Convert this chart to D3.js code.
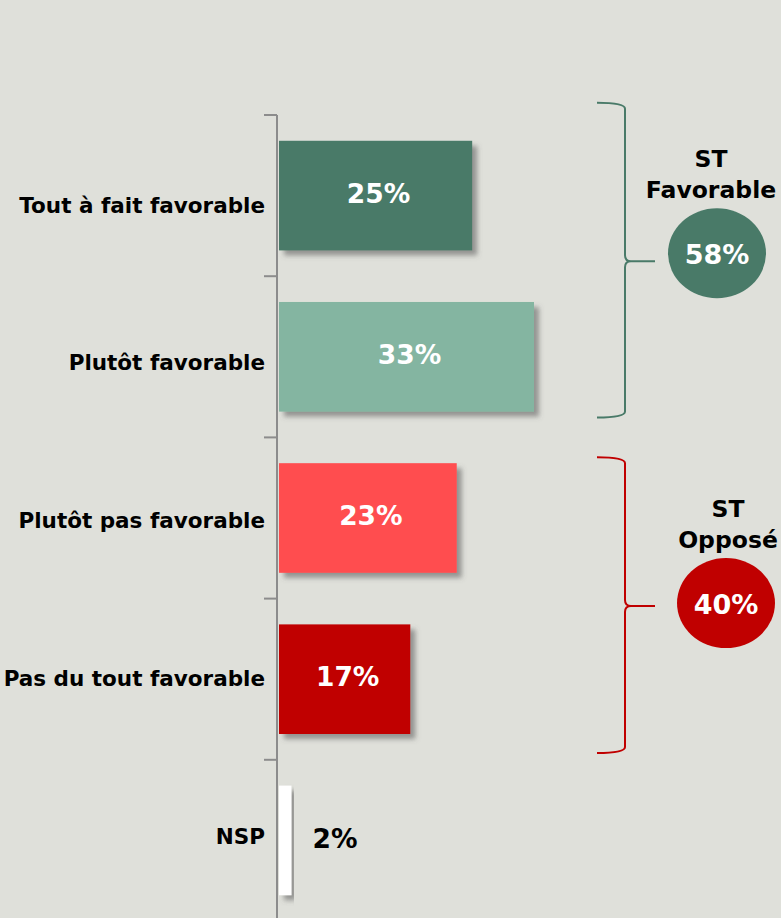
<!DOCTYPE html>
<html>
<head>
<meta charset="utf-8">
<script src="https://cdn.jsdelivr.net/npm/d3@7"></script>
<style>
  body { margin: 0; background: #dfe0da; }
  svg { display: block; font-family: "DejaVu Sans", Verdana, sans-serif; font-weight: bold; }
</style>
</head>
<body>
<div id="chart"></div>
<script>
// data
var categories = ["Tout à fait favorable", "Plutôt favorable", "Plutôt pas favorable", "Pas du tout favorable", "NSP"];
var values = [25, 33, 23, 17, 2];
var barColors = ["#497a68", "#84b5a1", "#ff4d4f", "#c00000", "#ffffff"];
var groupTitles = [["ST", "Favorable"], ["ST", "Opposé"]];
var groupTotals = [58, 40];
var groupColors = ["#497a68", "#c00000"];
var groupMembers = [[0, 1], [2, 3]];

var width = 781, height = 918;
var axisX = 277;

var svg = d3.select("#chart").append("svg")
    .attr("width", width)
    .attr("height", height);

var defs = svg.append("defs");
var shadow = defs.append("filter").attr("id", "shadow")
    .attr("x", "-10%").attr("y", "-10%").attr("width", "130%").attr("height", "130%");
shadow.append("feDropShadow")
    .attr("dx", 5).attr("dy", 5).attr("stdDeviation", 2.5)
    .attr("flood-color", "#555").attr("flood-opacity", 0.55);

var y = d3.scaleBand()
    .domain(categories)
    .range([115, 921])
    .paddingInner(0.32)
    .paddingOuter(0.16);

// category labels drift slightly from the band centres in the original
var yLabel = d3.scalePoint()
    .domain(categories)
    .range([205, 836]);

var x = d3.scaleLinear()
    .domain([0, 33])
    .range([axisX + 2, 534]);

// axis line and ticks between categories
var step = y.step();
var tickYs = d3.range(categories.length + 1).map(function (i) { return 115 + i * step; });

svg.append("line")
    .attr("x1", axisX).attr("x2", axisX)
    .attr("y1", 115).attr("y2", height)
    .attr("stroke", "#8c8c8c").attr("stroke-width", 2);

svg.selectAll(".tick")
    .data(tickYs)
    .enter().append("line")
    .attr("x1", axisX - 13).attr("x2", axisX)
    .attr("y1", function (d) { return d; })
    .attr("y2", function (d) { return d; })
    .attr("stroke", "#8c8c8c").attr("stroke-width", 2);

// bars
svg.selectAll(".bar")
    .data(values)
    .enter().append("rect")
    .attr("x", x(0))
    .attr("y", function (d, i) { return y(categories[i]); })
    .attr("width", function (d) { return Math.max(0, x(d) - x(0) - (d < 5 ? 3 : 0)); })
    .attr("height", y.bandwidth())
    .attr("fill", function (d, i) { return barColors[i]; })
    .attr("filter", "url(#shadow)");

// category labels
svg.selectAll(".cat")
    .data(categories)
    .enter().append("text")
    .attr("x", 265)
    .attr("y", function (d) { return yLabel(d); })
    .attr("dy", "0.35em")
    .attr("text-anchor", "end")
    .attr("font-size", 21.5)
    .attr("fill", "#000")
    .text(function (d) { return d; });

// value labels
svg.selectAll(".val")
    .data(values)
    .enter().append("text")
    .attr("x", function (d, i) { return i === 4 ? x(d) + 18 : (x(0) + x(d)) / 2 + 3; })
    .attr("y", function (d, i) { return y(categories[i]) + y.bandwidth() / 2 - 2; })
    .attr("dy", "0.35em")
    .attr("text-anchor", function (d, i) { return i === 4 ? "start" : "middle"; })
    .attr("font-size", 26.5)
    .attr("fill", function (d, i) { return i === 4 ? "#000" : "#fff"; })
    .text(function (d) { return d + "%"; });

// braces and group totals
var braceOffsets = [[38, 6], [6, 19]];
groupMembers.forEach(function (m, g) {
    var top = y(categories[m[0]]) - braceOffsets[g][0];
    var bot = y(categories[m[1]]) + y.bandwidth() + braceOffsets[g][1];
    var mid = (top + bot) / 2 + 1;
    var bx = 625, r = 6;
    var path = "M597," + top +
        " Q" + bx + "," + top + " " + bx + "," + (top + r) +
        " L" + bx + "," + (mid - r) +
        " Q" + bx + "," + mid + " " + (bx + 6) + "," + mid +
        " L655," + mid +
        " M" + (bx + 6) + "," + mid +
        " Q" + bx + "," + mid + " " + bx + "," + (mid + r) +
        " L" + bx + "," + (bot - r) +
        " Q" + bx + "," + bot + " 597," + bot;
    svg.append("path")
        .attr("d", path)
        .attr("fill", "none")
        .attr("stroke", groupColors[g])
        .attr("stroke-width", 2);

    var cx = g === 0 ? 717 : 726;
    var cy = mid - (g === 0 ? 8 : 3);
    svg.append("ellipse")
        .attr("cx", cx).attr("cy", cy)
        .attr("rx", 49).attr("ry", 45)
        .attr("fill", groupColors[g]);
    svg.append("text")
        .attr("x", cx).attr("y", cy + 1)
        .attr("dy", "0.35em")
        .attr("text-anchor", "middle")
        .attr("font-size", 27)
        .attr("fill", "#fff")
        .text(groupTotals[g] + "%");

    var tx = g === 0 ? 711 : 728;
    groupTitles[g].forEach(function (t, k) {
        svg.append("text")
            .attr("x", tx)
            .attr("y", cy - 94 + k * 31)
            .attr("dy", "0.35em")
            .attr("text-anchor", "middle")
            .attr("font-size", 23.5)
            .attr("fill", "#000")
            .text(t);
    });
});
</script>
</body>
</html>
